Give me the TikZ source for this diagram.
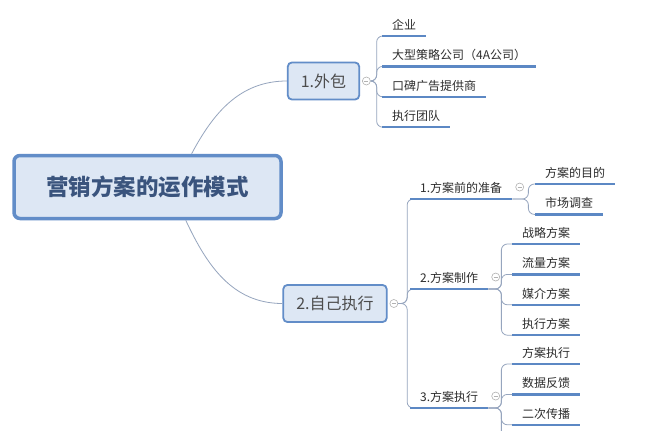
\documentclass[tikz,border=0pt]{standalone}
\usepackage{fontspec}
\newfontfamily\cjk{Noto Sans CJK SC}
\usetikzlibrary{positioning}
\definecolor{boxfill}{RGB}{221,231,244}
\definecolor{boxline}{RGB}{98,141,200}
\definecolor{ulinecol}{RGB}{92,136,196}
\definecolor{connline}{RGB}{150,165,190}
\definecolor{roottext}{RGB}{58,84,125}
\definecolor{leaftext}{RGB}{45,45,45}
\tikzset{root node/.style={rectangle,rounded corners=6pt,draw=boxline,line width=3.5pt,fill=boxfill,minimum width=267pt,minimum height=63pt,font=\cjk\bfseries\fontsize{22.5pt}{26pt}\selectfont,text=roottext},
	main node/.style={rectangle,rounded corners=4pt,draw=boxline,line width=1.8pt,fill=boxfill,minimum height=37pt,inner xsep=13pt,font=\cjk\fontsize{16pt}{19pt}\selectfont,text=black!70},
	leaf node/.style={anchor=south west,inner xsep=10pt,inner ysep=3.5pt,text height=9.5pt,text depth=3pt,font=\cjk\fontsize{12pt}{14pt}\selectfont,text=leaftext},
	fold node/.style={circle,draw=gray!60,fill=white,line width=0.6pt,minimum size=8pt,inner sep=0pt,path picture={\draw[gray!60,line width=0.6pt] ([xshift=2pt]path picture bounding box.west) -- ([xshift=-2pt]path picture bounding box.east);}},
	under line/.style={draw=ulinecol,line width=2.2pt},
	branch/.style={draw=connline,line width=0.8pt,rounded corners=6pt},
}
\begin{document}
\begin{tikzpicture}[x=1pt,y=-1pt,node distance=10.5pt]
	\useasboundingbox (0,0) rectangle (646,431);
	\clip (0,0) rectangle (646,431);
	\fill[white] (0,0) rectangle (646,431);
	\node[root node] (root) at (147.5,187) {营销方案的运作模式};
	\node[main node] (out) at (323.5,81) {1.外包};
	\node[main node] (self) at (335,303.5) {2.自己执行};
	\node[fold node,right=2pt of out] (f1) {};
	\node[fold node,right=2pt of self] (f2) {};
	
	% 1.外包
	\node[leaf node] (a1) at (382,36) {企业};
	\node[leaf node,below=of a1.south west,anchor=north west] (a2) {大型策略公司（4A公司）};
	\node[leaf node,below=of a2.south west,anchor=north west] (a3) {口碑广告提供商};
	\node[leaf node,below=of a3.south west,anchor=north west] (a4) {执行团队};
	
	% 2.自己执行
	\node[leaf node] (b1) at (410,199) {1.方案前的准备};
	\node[leaf node] (b2) at (410,289) {2.方案制作};
	\node[leaf node] (b3) at (410,408) {3.方案执行};
	\node[fold node,right=3pt of b1.east,yshift=2pt] (fb1) {};
	\node[fold node,right=3pt of b2.east,yshift=2pt] (fb2) {};
	\node[fold node,right=3pt of b3.east,yshift=2pt] (fb3) {};
	
	\node[leaf node] (c11) at (535,184) {方案的目的};
	\node[leaf node,below=of c11.south west,anchor=north west] (c12) {市场调查};
	
	\node[leaf node] (c21) at (512,244) {战略方案};
	\node[leaf node,below=of c21.south west,anchor=north west] (c22) {流量方案};
	\node[leaf node,below=of c22.south west,anchor=north west] (c23) {媒介方案};
	\node[leaf node,below=of c23.south west,anchor=north west] (c24) {执行方案};
	
	\node[leaf node] (c31) at (512,364) {方案执行};
	\node[leaf node,below=of c31.south west,anchor=north west] (c32) {数据反馈};
	\node[leaf node,below=of c32.south west,anchor=north west] (c33) {二次传播};
	\coordinate (c34) at (512,454);
	
	\draw[connline,line width=0.8pt] (root.37) to[out=62,in=180] (out.west);
	\draw[connline,line width=0.8pt] (root.-41) to[out=-65,in=180] (self.west);
	\foreach \n in {a1,a2,a3,a4}
		\draw[branch] (f1.east) -- ++(6,0) |- ([xshift=6pt]\n.south west);
	\foreach \n in {b1,b2,b3}
		\draw[branch] (f2.east) -- ++(9,0) |- ([xshift=6pt]\n.south west);
	\foreach \n in {c11,c12}
		\draw[branch] (b1.south east) -- ++(16,0) |- ([xshift=6pt]\n.south west);
	\foreach \n in {c21,c22,c23,c24}
		\draw[branch] (b2.south east) -- ++(13,0) |- ([xshift=6pt]\n.south west);
	\foreach \n in {c31,c32,c33}
		\draw[branch] (b3.south east) -- ++(13,0) |- ([xshift=6pt]\n.south west);
	\draw[branch] (b3.south east) -- ++(13,0) |- (c34);
	
	\foreach \n in {a1,a2,a3,a4,b1,b2,b3,c11,c12,c21,c22,c23,c24,c31,c32,c33}
		\draw[under line] (\n.south west) -- (\n.south east);
\end{tikzpicture}
\end{document}
